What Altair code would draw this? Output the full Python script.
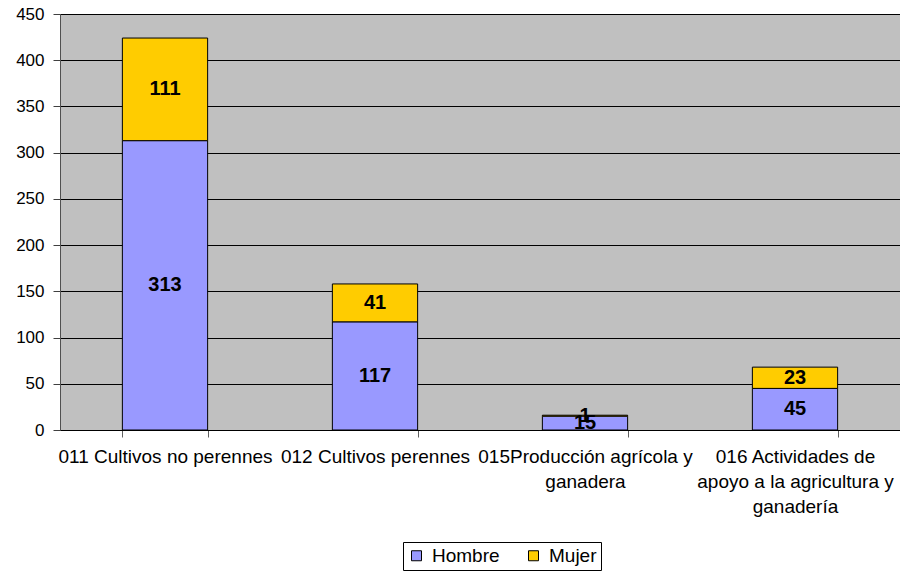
import altair as alt
import pandas as pd

categories = [
    "011 Cultivos no perennes",
    "012 Cultivos perennes",
    "015Producción agrícola y|ganadera",
    "016 Actividades de|apoyo a la agricultura y|ganadería",
]
hombre = [313, 117, 15, 45]
mujer = [111, 41, 1, 23]
series = ["Hombre", "Mujer"]
colors = ["#9999FF", "#FFCC00"]
y_ticks = [0, 50, 100, 150, 200, 250, 300, 350, 400, 450]

rows = []
for c, h, m in zip(categories, hombre, mujer):
    rows.append({"cat": c, "serie": series[0], "valor": h, "orden": 0})
    rows.append({"cat": c, "serie": series[1], "valor": m, "orden": 1})
df = pd.DataFrame(rows)

FONT = "Liberation Sans"

base = alt.Chart(df).transform_stack(
    stack="valor", groupby=["cat"], as_=["y0", "y1"], sort=[alt.SortField("orden")]
).transform_calculate(mid="(datum.y0 + datum.y1) / 2")

xscale = alt.Scale(paddingInner=0.594, paddingOuter=0.297)
yscale = alt.Scale(domain=[0, 450], nice=False)

x_enc = alt.X(
    "cat:N",
    sort=categories,
    title=None,
    scale=xscale,
    axis=alt.Axis(
        labelAngle=0,
        labelExpr="split(datum.label, '|')",
        labelLineHeight=25,
        labelFontSize=19,
        labelFont=FONT,
        labelColor="black",
        labelPadding=10,
        labelLimit=0,
        labelOverlap=False,
        labelBound=False,
        tickBand="extent",
        tickSize=7,
        tickColor="#606060",
        domainColor="black",
        grid=False,
    ),
)

bars = base.mark_bar(stroke="black", strokeWidth=1).encode(
    x=x_enc,
    y=alt.Y(
        "y0:Q",
        scale=yscale,
        title=None,
        axis=alt.Axis(
            values=y_ticks,
            labelFontSize=17,
            labelFont=FONT,
            labelColor="black",
            labelPadding=9,
            labelBound=False,
            tickSize=7,
            tickColor="#404040",
            domainColor="#505050",
            gridColor="black",
            gridWidth=1,
            gridOpacity=1,
        ),
    ),
    y2="y1:Q",
    color=alt.Color(
        "serie:N",
        scale=alt.Scale(domain=series, range=colors),
        legend=alt.Legend(
            title=None,
            orient="none",
            legendX=343,
            legendY=528,
            direction="horizontal",
            strokeColor="black",
            fillColor="white",
            padding=4,
            symbolType="square",
            symbolSize=100,
            symbolStrokeColor="black",
            symbolStrokeWidth=1,
            labelFontSize=19,
            labelFont=FONT,
            labelColor="black",
            columnPadding=24,
            labelOffset=6,
            gridAlign="all",
        ),
    ),
    order=alt.Order("orden:Q"),
)

labels = base.mark_text(
    fontWeight="bold", fontSize=20, font=FONT, color="black", baseline="middle"
).encode(
    x=alt.X("cat:N", sort=categories, scale=xscale),
    y=alt.Y("mid:Q", scale=yscale),
    text="valor:Q",
)

chart = (
    alt.layer(bars, labels)
    .properties(
        width=840,
        height=416,
        autosize=alt.AutoSizeParams(type="none"),
        padding={"left": 52, "top": 6, "right": 0, "bottom": 141},
        background="white",
    )
    .configure_legend(padding=4)
    .configure_view(fill="#C0C0C0", stroke="#808080", strokeWidth=1)
)

chart.save("out.html", embed_options={"renderer": "svg", "actions": False})
